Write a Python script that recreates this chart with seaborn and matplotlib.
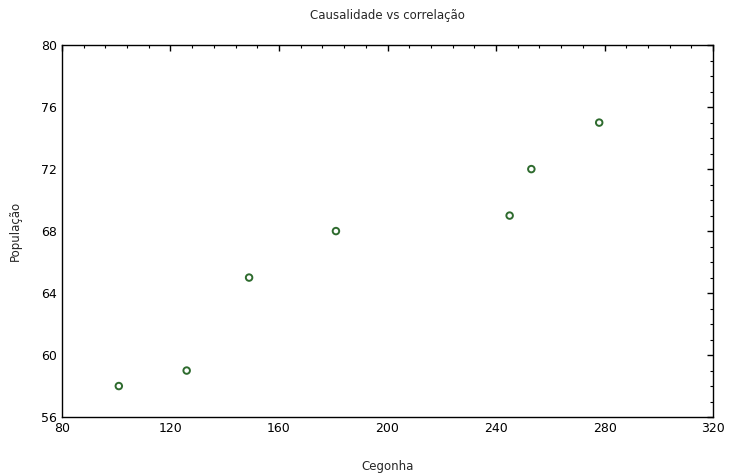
import matplotlib
matplotlib.use('Agg')
import matplotlib.pyplot as plt
import seaborn as sns
import pandas as pd
from matplotlib.ticker import MultipleLocator

# Dados
cegonha = [101, 126, 149, 181, 245, 253, 278]
populacao = [58, 59, 65, 68, 69, 72, 75]

df = pd.DataFrame({"Cegonha": cegonha, "População": populacao})

sns.set_style("white")
plt.rcParams['font.family'] = ['DejaVu Sans']

fig, ax = plt.subplots(figsize=(7.36, 4.75), dpi=100)
fig.subplots_adjust(left=0.084, right=0.969, top=0.905, bottom=0.122)

sns.scatterplot(data=df, x="Cegonha", y="População", ax=ax,
                marker="o", s=22, facecolors="none", edgecolor="#2e6b2e",
                linewidth=1.4)

ax.set_xlim(80, 320)
ax.set_ylim(56, 80)
ax.xaxis.set_major_locator(MultipleLocator(40))
ax.xaxis.set_minor_locator(MultipleLocator(8))
ax.yaxis.set_major_locator(MultipleLocator(4))
ax.yaxis.set_minor_locator(MultipleLocator(1))
ax.tick_params(which="both", direction="in", top=True, right=True,
               labelsize=9, colors="black")
ax.tick_params(which="major", length=4, width=1)
ax.tick_params(which="minor", length=2, width=0.8)
for sp in ax.spines.values():
    sp.set_color("black")
    sp.set_linewidth(1)

ax.set_title("Causalidade vs correlação", fontsize=8.5, pad=19)
ax.set_xlabel("Cegonha", fontsize=8.5, labelpad=18)
ax.set_ylabel("População", fontsize=8.5, labelpad=14)

plt.savefig("out.png", dpi=100)
plt.close()
